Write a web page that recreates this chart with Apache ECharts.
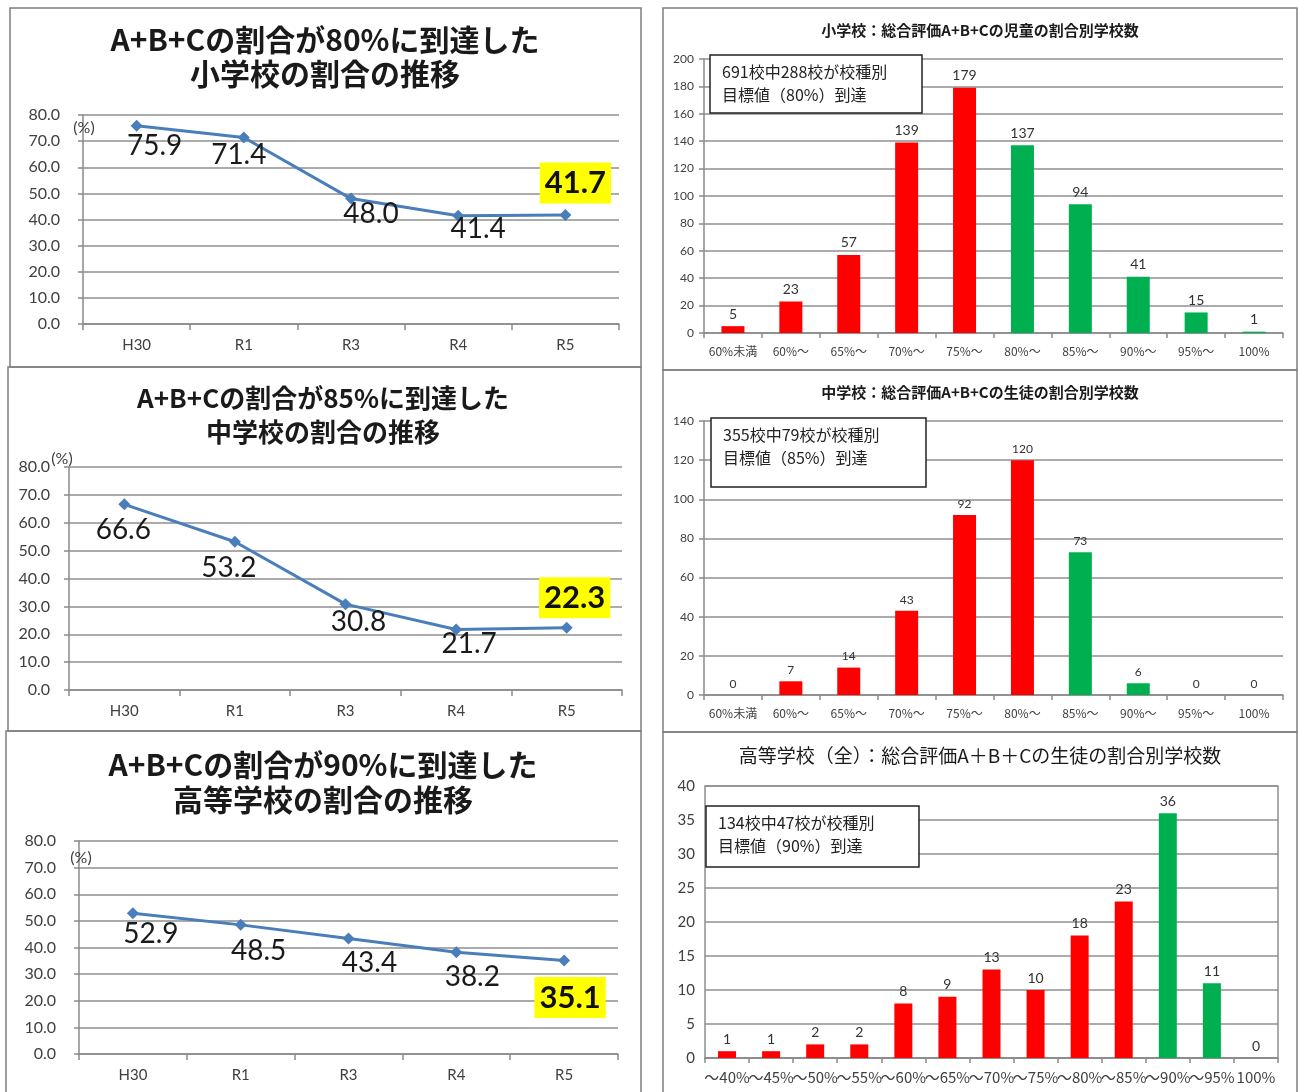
<!DOCTYPE html>
<html>
<head>
<meta charset="utf-8">
<title>A+B+Cの割合の推移と割合別学校数</title>
<script src="https://cdn.jsdelivr.net/npm/echarts@6/dist/echarts.min.js"></script>
<style>
  html, body { margin: 0; padding: 0; background: #ffffff; }
  #main { width: 1298px; height: 1092px; }
</style>
</head>
<body>
<div id="main"></div>
<script>
// ---- data ----
const years = ['H30', 'R1', 'R3', 'R4', 'R5'];
const elemRate = [75.9, 71.4, 48.0, 41.4, 41.7];     // 小学校 (80%到達)
const juniorRate = [66.6, 53.2, 30.8, 21.7, 22.3];   // 中学校 (85%到達)
const highRate = [52.9, 48.5, 43.4, 38.2, 35.1];     // 高等学校 (90%到達)

const elemBands = ['60%未満', '60%～', '65%～', '70%～', '75%～', '80%～', '85%～', '90%～', '95%～', '100%'];
const elemCounts = [5, 23, 57, 139, 179, 137, 94, 41, 15, 1];
const juniorBands = ['60%未満', '60%～', '65%～', '70%～', '75%～', '80%～', '85%～', '90%～', '95%～', '100%'];
const juniorCounts = [0, 7, 14, 43, 92, 120, 73, 6, 0, 0];
const highBands = ['～40%', '～45%', '～50%', '～55%', '～60%', '～65%', '～70%', '～75%', '～80%', '～85%', '～90%', '～95%', '100%'];
const highCounts = [1, 1, 2, 2, 8, 9, 13, 10, 18, 23, 36, 11, 0];

// first band that meets each school type's target
const elemTargetBand = '80%～';
const juniorTargetBand = '85%～';
const highTargetBand = '～90%';

// ---- styling ----
const JP = "'Noto Sans CJK JP', sans-serif";
const NUM = "Lato, 'Noto Sans CJK JP', sans-serif";
const GRID = '#8f8f8f';
const AXIS = '#8a8a8a';
const LINE = '#4a7ebb';
const RED = '#ff0000';
const GREEN = '#00b050';

const chart = echarts.init(document.getElementById('main'), null, { renderer: 'canvas' });

const grids = [];
const xAxes = [];
const yAxes = [];
const series = [];
const graphics = [];

// panel frames
[
  [10, 8, 631, 359], [8, 367, 633, 364], [6, 731, 635, 370],
  [663, 8, 634, 362], [663, 370, 634, 362], [663, 732, 634, 370]
].forEach(([x, y, w, h]) => {
  graphics.push({ type: 'rect', shape: { x, y, width: w, height: h },
    style: { fill: 'none', stroke: '#7f7f7f', lineWidth: 1.5 }, z: 0 });
});

function title(text, x, y, font) {
  graphics.push({ type: 'text', z: 50,
    style: { text, x, y, textAlign: 'center', textVerticalAlign: 'middle', font, fill: '#1a1a1a' } });
}

// ---- line charts (left column) ----
const lineCharts = [
  { values: elemRate, grid: { left: 83, top: 115, width: 536, height: 209 },
    titles: ['A+B+Cの割合が80%に到達した', '小学校の割合の推移'], titleY: [40, 74], cx: 325, titleSize: 30,
    unit: [84, 128], offsets: [[18, 20], [-5, 18], [20, 15], [20, 13], [10, -32]], margin: 23 },
  { values: juniorRate, grid: { left: 69, top: 467, width: 553, height: 223 },
    titles: ['A+B+Cの割合が85%に到達した', '中学校の割合の推移'], titleY: [398, 432], cx: 323, titleSize: 26,
    unit: [62, 459], offsets: [[-1, 26], [-6, 26], [13, 18], [13, 14], [8, -30]], margin: 19 },
  { values: highRate, grid: { left: 79, top: 841, width: 539, height: 213 },
    titles: ['A+B+Cの割合が90%に到達した', '高等学校の割合の推移'], titleY: [765, 800], cx: 323, titleSize: 30,
    unit: [81, 858], offsets: [[18, 21], [18, 26], [21, 25], [16, 25], [6, 37]], margin: 23 }
];

lineCharts.forEach((c, i) => {
  grids.push(c.grid);
  xAxes.push({
    type: 'category', gridIndex: i, data: years, boundaryGap: true,
    axisLine: { lineStyle: { color: AXIS, width: 1.5 } },
    axisTick: { show: true, length: 6, lineStyle: { color: AXIS, width: 1.5 } },
    axisLabel: { fontSize: 15, color: '#404040', fontFamily: NUM, margin: 14 }
  });
  yAxes.push({
    type: 'value', gridIndex: i, min: 0, max: 80, interval: 10,
    axisLine: { show: true, lineStyle: { color: AXIS, width: 1.5 } },
    axisTick: { show: true, length: 5, lineStyle: { color: AXIS, width: 1.5 } },
    splitLine: { lineStyle: { color: GRID, width: 1.5 } },
    axisLabel: { fontSize: 16, color: '#404040', fontFamily: NUM, margin: c.margin,
      formatter: v => v.toFixed(1) }
  });
  const last = c.values.length - 1;
  series.push({
    type: 'line', xAxisIndex: i, yAxisIndex: i,
    symbol: 'diamond', symbolSize: 12,
    lineStyle: { color: LINE, width: 3 },
    itemStyle: { color: LINE },
    label: { show: true, position: 'inside', fontSize: 28, color: '#1a1a1a', fontFamily: NUM,
      formatter: p => p.value.toFixed(1) },
    data: c.values.map((v, k) => ({
      value: v,
      label: k === last
        ? { offset: c.offsets[k], fontWeight: 'bold', fontSize: 31, backgroundColor: '#ffff00',
            padding: [7, 5, 3, 5], color: '#111' }
        : { offset: c.offsets[k] }
    })),
    z: 5
  });
  title(c.titles[0], c.cx, c.titleY[0], `bold ${c.titleSize}px ${JP}`);
  title(c.titles[1], c.cx, c.titleY[1], `bold ${c.titleSize}px ${JP}`);
  graphics.push({ type: 'text', z: 50,
    style: { text: '(%)', x: c.unit[0], y: c.unit[1], textAlign: 'center', textVerticalAlign: 'middle',
      font: `16px ${NUM}`, fill: '#404040' } });
});

// ---- bar charts (right column) ----
const barCharts = [
  { bands: elemBands, counts: elemCounts, target: elemTargetBand, max: 200, interval: 20,
    grid: { left: 704, top: 59, width: 579, height: 274 }, barWidth: 23,
    title: '小学校：総合評価A+B+Cの児童の割合別学校数', titleY: 30, titleFont: `bold 15px ${JP}`,
    box: [710, 55, 212, 58], note: ['691校中288校が校種別', '目標値（80%）到達'],
    tickFont: 12, labelFont: 14, border: false },
  { bands: juniorBands, counts: juniorCounts, target: juniorTargetBand, max: 140, interval: 20,
    grid: { left: 704, top: 421, width: 579, height: 274 }, barWidth: 23,
    title: '中学校：総合評価A+B+Cの生徒の割合別学校数', titleY: 392, titleFont: `bold 15px ${JP}`,
    box: [711, 418, 215, 69], note: ['355校中79校が校種別', '目標値（85%）到達'],
    tickFont: 12, labelFont: 12, border: false },
  { bands: highBands, counts: highCounts, target: highTargetBand, max: 40, interval: 5,
    grid: { left: 705, top: 786, width: 573, height: 272 }, barWidth: 18,
    title: '高等学校（全）：総合評価A＋B＋Cの生徒の割合別学校数', titleY: 756, titleFont: `19px ${JP}`,
    box: [706, 806, 213, 61], note: ['134校中47校が校種別', '目標値（90%）到達'],
    tickFont: 15, labelFont: 14, border: true }
];

barCharts.forEach((c, j) => {
  const i = j + 3;
  grids.push(Object.assign({ show: c.border, borderColor: GRID, borderWidth: 1.5 }, c.grid));
  xAxes.push({
    type: 'category', gridIndex: i, data: c.bands, boundaryGap: true,
    axisLine: { lineStyle: { color: AXIS, width: 1.5 } },
    axisTick: { show: true, length: 5, lineStyle: { color: AXIS, width: 1.5 } },
    axisLabel: { fontSize: c.tickFont, color: '#404040', fontFamily: JP, margin: 12, interval: 0 }
  });
  yAxes.push({
    type: 'value', gridIndex: i, min: 0, max: c.max, interval: c.interval,
    axisLine: { show: !c.border, lineStyle: { color: AXIS, width: 1.5 } },
    axisTick: { show: !c.border, length: 5, lineStyle: { color: AXIS, width: 1.5 } },
    splitLine: { lineStyle: { color: GRID, width: 1.5 } },
    axisLabel: { fontSize: c.tickFont, color: '#404040', fontFamily: NUM, margin: 10 }
  });
  const from = c.bands.indexOf(c.target);
  series.push({
    type: 'bar', xAxisIndex: i, yAxisIndex: i, barWidth: c.barWidth,
    data: c.counts.map((v, k) => ({ value: v, itemStyle: { color: k >= from ? GREEN : RED } })),
    label: { show: true, position: 'top', distance: 5, fontSize: c.labelFont, color: '#333',
      fontFamily: NUM },
    z: 5
  });
  title(c.title, 980, c.titleY, c.titleFont);
  const [bx, by, bw, bh] = c.box;
  graphics.push({ type: 'rect', z: 60, shape: { x: bx, y: by, width: bw, height: bh },
    style: { fill: '#ffffff', stroke: '#222', lineWidth: 1.5 } });
  graphics.push({ type: 'text', z: 61,
    style: { text: c.note.join('\n'), x: bx + 12, y: by + 5, lineHeight: 23,
      font: `16px ${JP}`, fill: '#222' } });
});

chart.setOption({
  animation: false,
  backgroundColor: '#ffffff',
  grid: grids,
  xAxis: xAxes,
  yAxis: yAxes,
  series: series,
  graphic: { elements: graphics }
});
</script>
</body>
</html>
